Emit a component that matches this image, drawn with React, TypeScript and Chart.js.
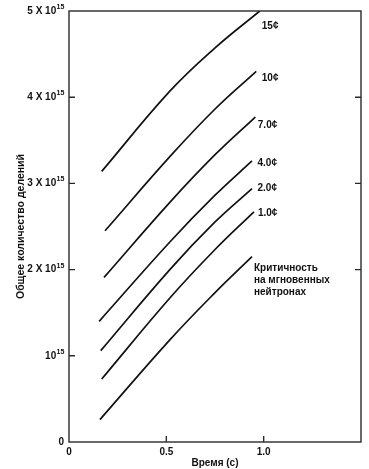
import React, { useEffect, useRef } from "react";
import { Chart, registerables } from "chart.js";

Chart.register(...registerables);

// Time (s) and total fissions (×10^15)
const t15 = [0.168, 0.518, 0.749, 0.98];
const v15 = [3.14, 4.07, 4.57, 5.0];
const t10 = [0.185, 0.518, 0.749, 0.962];
const v10 = [2.45, 3.31, 3.86, 4.3];
const t7 = [0.18, 0.518, 0.749, 0.957];
const v7 = [1.91, 2.78, 3.33, 3.77];
const t4 = [0.155, 0.518, 0.749, 0.94];
const v4 = [1.4, 2.32, 2.86, 3.26];
const t2 = [0.163, 0.518, 0.749, 0.94];
const v2 = [1.06, 2.0, 2.55, 2.94];
const t1 = [0.168, 0.518, 0.749, 0.95];
const v1 = [0.73, 1.67, 2.23, 2.67];
const tP = [0.159, 0.518, 0.749, 0.94];
const vP = [0.26, 1.185, 1.73, 2.15];

const seriesLabels = ["15¢", "10¢", "7.0¢", "4.0¢", "2.0¢", "1.0¢", "Критичность\nна мгновенных\nнейтронах"];
const seriesT = [t15, t10, t7, t4, t2, t1, tP];
const seriesV = [v15, v10, v7, v4, v2, v1, vP];

const xTickLabels: Record<string, string> = { "0": "0", "0.5": "0.5", "1": "1.0", "1.5": "" };
// [main text, superscript]
const yTickLabels: Record<string, [string, string]> = {
  "0": ["0", ""],
  "1": ["10", "15"],
  "2": ["2 X 10", "15"],
  "3": ["3 X 10", "15"],
  "4": ["4 X 10", "15"],
  "5": ["5 X 10", "15"],
};
const xAxisTitle = "Время (с)";
const yAxisTitle = "Общее количество делений";

const FONT = "'Liberation Sans', Arial, sans-serif";
const labelOffsets = [
  [2, 15],
  [5.5, 7],
  [2.5, 8.5],
  [5.5, 2.5],
  [5.5, 0],
  [4, 1],
  [2, 12],
];

const framePlugin = {
  id: "frame",
  afterDraw(chart: any) {
    const { ctx, chartArea } = chart;
    const { left, right, top, bottom } = chartArea;
    const xs = chart.scales.x;
    const ys = chart.scales.y;
    ctx.save();
    ctx.strokeStyle = "#2a2a2a";
    ctx.lineWidth = 1.4;
    ctx.strokeRect(left, top, right - left, bottom - top);
    ctx.beginPath();
    [1, 2, 3, 4].forEach((v) => {
      const y = ys.getPixelForValue(v);
      ctx.moveTo(left, y);
      ctx.lineTo(left + 6, y);
    });
    [2, 3, 4].forEach((v) => {
      const y = ys.getPixelForValue(v);
      ctx.moveTo(right, y);
      ctx.lineTo(right - 6, y);
    });
    [0.5, 1.0].forEach((v) => {
      const x = xs.getPixelForValue(v);
      ctx.moveTo(x, bottom);
      ctx.lineTo(x, bottom - 6);
    });
    ctx.stroke();

    ctx.fillStyle = "#111";
    ctx.textBaseline = "middle";

    // y tick labels with superscripts
    const mainFont = `bold 10px ${FONT}`;
    const supFont = `bold 7px ${FONT}`;
    ys.ticks.forEach((tk: any) => {
      const lab = yTickLabels[String(tk.value)];
      if (!lab) return;
      const y = ys.getPixelForValue(tk.value);
      ctx.font = supFont;
      const ws = lab[1] ? ctx.measureText(lab[1]).width : 0;
      ctx.font = mainFont;
      const wm = ctx.measureText(lab[0]).width;
      const xEnd = left - 5;
      ctx.textAlign = "left";
      ctx.fillText(lab[0], xEnd - ws - wm, y);
      if (lab[1]) {
        ctx.font = supFont;
        ctx.fillText(lab[1], xEnd - ws + 0.3, y - 4);
      }
    });

    ctx.font = `bold 10px ${FONT}`;
    ctx.textAlign = "left";
    chart.data.datasets.forEach((ds: any, i: number) => {
      const meta = chart.getDatasetMeta(i);
      const pt = meta.data[meta.data.length - 1];
      const [dx, dy] = labelOffsets[i];
      const lines = String(ds.label).split("\n");
      lines.forEach((ln: string, k: number) => {
        ctx.fillText(ln, pt.x + dx, pt.y + dy + k * 12);
      });
    });
    ctx.restore();
  },
};

export default function App() {
  const ref = useRef<HTMLCanvasElement>(null);
  useEffect(() => {
    if (!ref.current) return;
    const chart = new Chart(ref.current, {
      type: "line",
      data: {
        datasets: seriesLabels.map((lab, i) => ({
          label: lab,
          data: seriesT[i].map((t, k) => ({ x: t, y: seriesV[i][k] })),
          borderColor: "#111",
          borderWidth: 1.7,
          pointRadius: 0,
          tension: 0.4,
          fill: false,
        })),
      },
      options: {
        animation: false,
        responsive: false,
        layout: { padding: { left: 0, top: 7, right: 8, bottom: 0 } },
        plugins: { legend: { display: false }, tooltip: { enabled: false } },
        scales: {
          x: {
            type: "linear",
            min: 0,
            max: 1.5,
            border: { display: false },
            grid: { display: false, drawTicks: false },
            ticks: {
              stepSize: 0.5,
              padding: 4,
              color: "#111",
              font: { family: FONT, size: 10, weight: "bold" },
              maxRotation: 0,
              callback: (v: any) => xTickLabels[String(v)] ?? "",
            },
            title: {
              display: true,
              text: xAxisTitle,
              color: "#111",
              font: { family: FONT, size: 10, weight: "bold" },
              padding: { top: 0, bottom: 0 },
            },
            afterFit: (s: any) => {
              s.height = 27;
            },
          },
          y: {
            type: "linear",
            min: 0,
            max: 5,
            border: { display: false },
            grid: { display: false, drawTicks: false },
            ticks: {
              stepSize: 1,
              padding: 5,
              color: "rgba(0,0,0,0)",
              font: { family: FONT, size: 10, weight: "bold" },
              callback: (v: any) => {
                const l = yTickLabels[String(v)];
                return l ? l[0] + l[1] : "";
              },
            },
            title: {
              display: true,
              text: yAxisTitle,
              color: "#111",
              font: { family: FONT, size: 10.5, weight: "bold" },
              padding: { top: 15, bottom: 0 },
            },
            afterFit: (s: any) => {
              s.width = 69;
            },
          },
        },
      },
      plugins: [framePlugin],
    });
    return () => chart.destroy();
  }, []);
  return (
    <div style={{ position: "absolute", left: 0, top: 0, width: 369, height: 469, background: "#fff" }}>
      <canvas ref={ref} width={369} height={469} style={{ display: "block" }} />
    </div>
  );
}
